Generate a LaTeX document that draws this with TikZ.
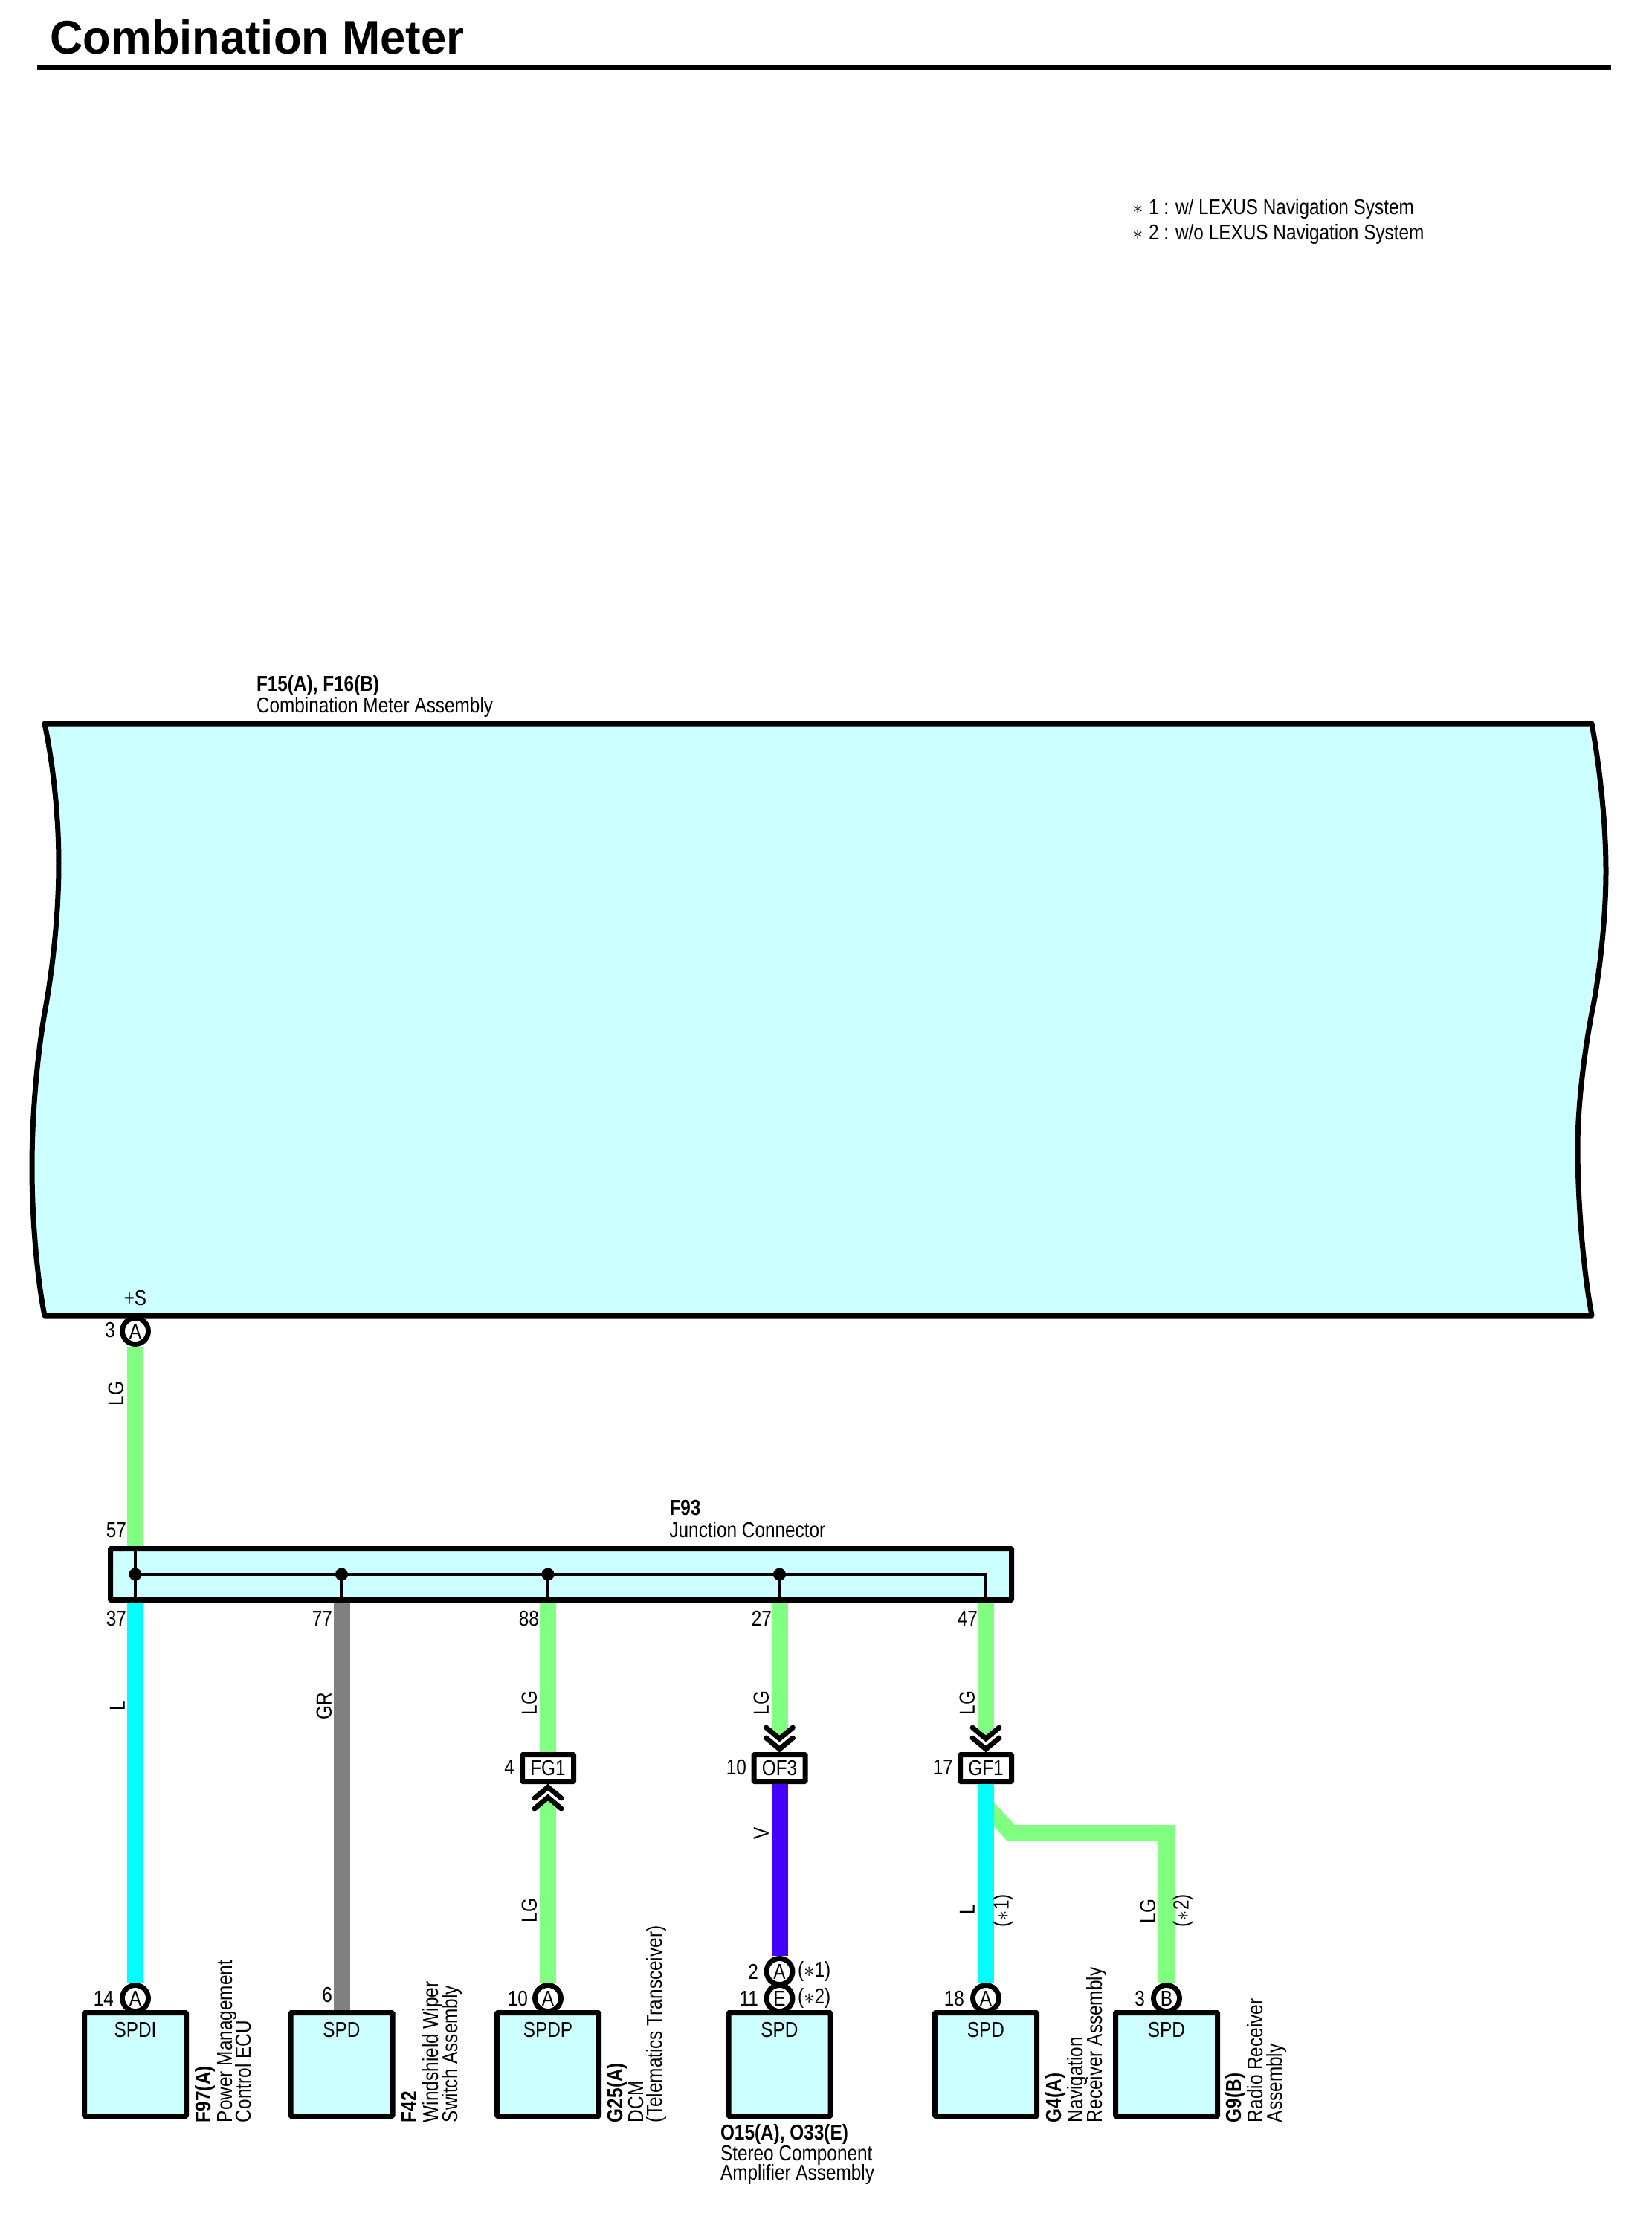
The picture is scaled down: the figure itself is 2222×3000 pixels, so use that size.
\documentclass[tikz,border=0pt]{standalone}
\usepackage{fontspec}
\setmainfont{Liberation Sans}[FakeStretch=0.84]
\newfontfamily\titlefont{Liberation Sans}[FakeStretch=0.97]
\definecolor{fillc}{HTML}{CCFFFF}
\definecolor{wlg}{HTML}{80FF80}
\definecolor{wl}{HTML}{00FFFF}
\definecolor{wgr}{HTML}{808080}
\definecolor{wv}{HTML}{4400FF}
\newcommand{\ft}{\fontsize{14.5pt}{16pt}\selectfont}
\tikzset{
  txt/.style={inner sep=0pt,outer sep=0pt,font=\ft,text=black},
  num/.style={txt,anchor=east},
  wname/.style={txt,rotate=90},
  dev/.style={txt,rotate=90,anchor=base west},
  hlab/.style={txt,anchor=base west},
  pin/.style={circle,draw=black,fill=white,line width=3.4pt,minimum size=17.5pt,inner sep=0pt,font=\ft},
  devbox/.style={rectangle,draw=black,fill=fillc,line width=3.5pt,minimum width=68.5pt,minimum height=69.5pt,inner sep=0pt,rounded corners=0.5pt},
  conbox/.style={rectangle,draw=black,fill=white,line width=3.5pt,minimum width=34.5pt,minimum height=18pt,inner sep=0pt,font=\ft,rounded corners=0.5pt},
  jbox/.style={rectangle,draw=black,fill=fillc,line width=3.5pt,minimum width=606pt,minimum height=34.5pt,inner sep=0pt,rounded corners=0.5pt},
  dot/.style={circle,fill=black,inner sep=0pt,minimum size=8.5pt},
  wire/.style={line width=11pt},
  bus/.style={draw=black,line width=2.2pt},
  chevline/.style={draw=black,line width=3.4pt,line cap=round},
  rulel/.style={draw=black,line width=3.5pt},
  outline/.style={draw=black,fill=fillc,line width=3.5pt,line join=round},
}
\newcommand{\chevdown}[1]{%
  \draw[chevline] ([shift={(-18,-33)}]#1) -- ([shift={(0,-18)}]#1) -- ([shift={(18,-33)}]#1);
  \draw[chevline] ([shift={(-18,-19)}]#1) -- ([shift={(0,-4)}]#1) -- ([shift={(18,-19)}]#1);
}
\newcommand{\chevup}[1]{%
  \draw[chevline] ([shift={(-18,33)}]#1) -- ([shift={(0,18)}]#1) -- ([shift={(18,33)}]#1);
  \draw[chevline] ([shift={(-18,19)}]#1) -- ([shift={(0,4)}]#1) -- ([shift={(18,19)}]#1);
}
\begin{document}
\begin{tikzpicture}[x=0.5pt,y=-0.5pt]
\useasboundingbox (0,0) rectangle (2222,3000);
\fill[white] (0,0) rectangle (2222,3000);

% title
\node[anchor=base west,inner sep=0pt,font=\titlefont\bfseries\fontsize{31.7pt}{34pt}\selectfont] (title) at (67,72) {Combination Meter};
\coordinate (ruleL) at (50,90.5);
\coordinate (ruleR) at (2167,90.5);
\draw[rulel] (ruleL) -- (ruleR);

% legend
\node[hlab] (star1) at (1523,288) {$\ast$};
\node[hlab] (leg1) at (1545,288) {1 : w/ LEXUS Navigation System};
\node[hlab] (star2) at (1523,322) {$\ast$};
\node[hlab] (leg2) at (1545,322) {2 : w/o LEXUS Navigation System};

% main assembly
\node[hlab,font=\ft\bfseries] (mainid) at (345,929) {F15(A), F16(B)};
\node[hlab] (mainname) at (345,958) {Combination Meter Assembly};
\path[outline] (60,973) -- (2141,973)
  .. controls (2153,1040) and (2160,1110) .. (2160,1172)
  .. controls (2160,1240) and (2150,1320) .. (2141,1362)
  .. controls (2130,1420) and (2122,1490) .. (2122,1542)
  .. controls (2122,1620) and (2130,1710) .. (2141,1769)
  -- (60,1769)
  .. controls (50,1720) and (43,1640) .. (43,1569)
  .. controls (43,1500) and (50,1420) .. (60,1362)
  .. controls (68,1320) and (79,1240) .. (79,1161)
  .. controls (79,1100) and (72,1030) .. (60,973) -- cycle;
\node[txt] (plusS) at (182,1745) {+S};

% x positions
\coordinate (x1) at (182,0);
\coordinate (x2) at (459.5,0);
\coordinate (x3) at (737,0);
\coordinate (x4) at (1048.5,0);
\coordinate (x5) at (1326,0);
\coordinate (x6) at (1569,0);

% pins
\node[pin] (pTop) at (182,1790) {A};
\node[pin] (p14) at (182,2687) {A};
\node[pin] (p10g) at (737,2687) {A};
\node[pin] (p2) at (1048.5,2651) {A};
\node[pin] (p11) at (1048.5,2687) {E};
\node[pin] (p18) at (1326,2687) {A};
\node[pin] (p3b) at (1569,2687) {B};

% devices
\node[devbox] (d1) at (182,2776) {};
\node[devbox] (d2) at (459.5,2776) {};
\node[devbox] (d3) at (737,2776) {};
\node[devbox] (d4) at (1048.5,2776) {};
\node[devbox] (d5) at (1326,2776) {};
\node[devbox] (d6) at (1569,2776) {};
\node[txt] (t1) at (182,2729) {SPDI};
\node[txt] (t2) at (459.5,2729) {SPD};
\node[txt] (t3) at (737,2729) {SPDP};
\node[txt] (t4) at (1048.5,2729) {SPD};
\node[txt] (t5) at (1326,2729) {SPD};
\node[txt] (t6) at (1569,2729) {SPD};

% junction connector
\node[hlab,font=\ft\bfseries] (jid) at (900.5,2037.5) {F93};
\node[hlab] (jname) at (900.5,2067) {Junction Connector};
\node[jbox] (jc) at (754.5,2117) {};
\node[dot] (b1) at (182,2117) {};
\node[dot] (b2) at (459.5,2117) {};
\node[dot] (b3) at (737,2117) {};
\node[dot] (b4) at (1048.5,2117) {};
\coordinate (b5) at (1326,2117);
\draw[bus] (x1 |- jc.north) -- (x1 |- jc.south);
\draw[bus] (b1.center) -- (b5) -- (x5 |- jc.south);
\draw[bus] (b2.center) -- (x2 |- jc.south);
\draw[bus] (b3.center) -- (x3 |- jc.south);
\draw[bus] (b4.center) -- (x4 |- jc.south);

% inline connectors
\node[conbox] (fg1) at (737,2377.5) {FG1};
\node[conbox] (of3) at (1048.5,2377.5) {OF3};
\node[conbox] (gf1) at (1326,2377.5) {GF1};

% wires
\draw[wire,draw=wlg] (pTop.south) -- (x1 |- jc.north);
\draw[wire,draw=wl] (x1 |- jc.south) -- (p14.north);
\draw[wire,draw=wgr] (x2 |- jc.south) -- (d2.north);
\draw[wire,draw=wlg] (x3 |- jc.south) -- (fg1.north);
\draw[wire,draw=wlg] ([yshift=-10.5pt]fg1.south) -- (p10g.north);
\draw[wire,draw=wlg] (x4 |- jc.south) -- ([yshift=10pt]of3.north);
\draw[wire,draw=wv] (of3.south) -- (p2.north);
\draw[wire,draw=wlg] (x5 |- jc.south) -- ([yshift=10pt]gf1.north);
\coordinate (brA) at (1326,2428);
\coordinate (brB) at (1360,2465);
\draw[wire,draw=wlg] (brA) -- (brB) -- (brB -| x6) -- (p3b.north);
\draw[wire,draw=wl] (gf1.south) -- (p18.north);

% chevrons
\chevdown{of3.north}
\chevdown{gf1.north}
\chevup{fg1.south}

% pin numbers
\node[num] (n3) at (155,1788) {3};
\node[num] (n57) at (170,2058) {57};
\node[num] (n37) at (170,2176) {37};
\node[num] (n77) at (447,2176) {77};
\node[num] (n88) at (725,2176) {88};
\node[num] (n27) at (1038,2176) {27};
\node[num] (n47) at (1315,2176) {47};
\node[num] (n4) at (692,2376) {4};
\node[num] (n10o) at (1004,2376) {10};
\node[num] (n17) at (1282,2376) {17};
\node[num] (n14) at (153,2687) {14};
\node[num] (n6) at (447,2682) {6};
\node[num] (n10g) at (710,2687) {10};
\node[num] (n2) at (1020,2651) {2};
\node[num] (n11) at (1020,2687) {11};
\node[num] (n18) at (1297,2687) {18};
\node[num] (n3b) at (1540,2687) {3};
\node[txt,anchor=west] (c1) at (1073,2651) {($\ast$1)};
\node[txt,anchor=west] (c2) at (1073,2687) {($\ast$2)};

% wire names
\node[wname] (w1) at (156,1874) {LG};
\node[wname] (w2) at (158,2294) {L};
\node[wname] (w3) at (436,2294) {GR};
\node[wname] (w4) at (712,2290) {LG};
\node[wname] (w5) at (712,2569) {LG};
\node[wname] (w6) at (1024,2290) {LG};
\node[wname] (w7) at (1024,2465) {V};
\node[wname] (w8) at (1301,2290) {LG};
\node[wname] (w9) at (1301,2568) {L};
\node[wname] (w10) at (1349,2569) {($\ast$1)};
\node[wname] (w11) at (1544,2570) {LG};
\node[wname] (w12) at (1591,2569) {($\ast$2)};

% device labels
\node[dev,font=\ft\bfseries] (l1a) at (283,2854) {F97(A)};
\node[dev] (l1b) at (312,2854) {Power Management};
\node[dev] (l1c) at (337,2854) {Control ECU};
\node[dev,font=\ft\bfseries] (l2a) at (560,2854) {F42};
\node[dev] (l2b) at (589,2854) {Windshield Wiper};
\node[dev] (l2c) at (615,2854) {Switch Assembly};
\node[dev,font=\ft\bfseries] (l3a) at (837,2854) {G25(A)};
\node[dev] (l3b) at (865,2854) {DCM};
\node[dev] (l3c) at (890,2854) {(Telematics Transceiver)};
\node[hlab,font=\ft\bfseries] (l4a) at (969,2877) {O15(A), O33(E)};
\node[hlab] (l4b) at (969,2905) {Stereo Component};
\node[hlab] (l4c) at (969,2931) {Amplifier Assembly};
\node[dev,font=\ft\bfseries] (l5a) at (1427,2854) {G4(A)};
\node[dev] (l5b) at (1456,2854) {Navigation};
\node[dev] (l5c) at (1482,2854) {Receiver Assembly};
\node[dev,font=\ft\bfseries] (l6a) at (1669,2854) {G9(B)};
\node[dev] (l6b) at (1698,2854) {Radio Receiver};
\node[dev] (l6c) at (1724,2854) {Assembly};
\end{tikzpicture}
\end{document}
